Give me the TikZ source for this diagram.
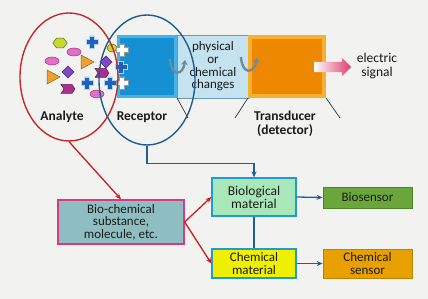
\documentclass[tikz,border=0pt]{standalone}
\usepackage{fontspec}
\setmainfont{Carlito}
\usetikzlibrary{arrows.meta,shapes.geometric,shapes.arrows}
\definecolor{bgc}{HTML}{F2F2F0}
\definecolor{recblue}{HTML}{1590D2}
\definecolor{recedge}{HTML}{45B2E8}
\definecolor{physfill}{HTML}{C4E2EF}
\definecolor{physedge}{HTML}{6A9CB0}
\definecolor{trorange}{HTML}{EE8800}
\definecolor{tredge}{HTML}{F7B030}
\definecolor{ellred}{HTML}{C42A2A}
\definecolor{ellblue}{HTML}{1F5C92}
\definecolor{arrred}{HTML}{C81E1E}
\definecolor{arrblue}{HTML}{1F5E96}
\definecolor{bcfill}{HTML}{8FBEC2}
\definecolor{bcedge}{HTML}{D83A80}
\definecolor{bmfill}{HTML}{A8E8B8}
\definecolor{cyanedge}{HTML}{1E9AD4}
\definecolor{cmfill}{HTML}{EEF000}
\definecolor{bsfill}{HTML}{6AA63A}
\definecolor{bsedge}{HTML}{4A8428}
\definecolor{csfill}{HTML}{E8A000}
\definecolor{csedge}{HTML}{C08000}
\definecolor{txt}{HTML}{1A1A1A}
\definecolor{crossblue}{HTML}{1A64BE}
\definecolor{pinkm}{HTML}{E070C0}
\definecolor{pinkedge}{HTML}{A03080}
\definecolor{ygreen}{HTML}{C8D830}
\definecolor{orng}{HTML}{F0A030}
\definecolor{purp}{HTML}{8048C8}
\definecolor{chev}{HTML}{A83090}
\definecolor{curvc}{HTML}{6E8C9A}
\definecolor{sigred}{HTML}{E03A6A}
\tikzset{
  txtfont/.style={font=\fontsize{13}{12.6}\selectfont, text=txt, align=center},
  boldlab/.style={font=\fontsize{13.5}{14}\selectfont\bfseries, text=txt, align=center},
  bigbox/.style={inner sep=0pt, align=center, txtfont},
  redarr/.style={draw=arrred, line width=1.3pt, -{Stealth[length=6pt,width=5pt]}},
  bluearr/.style={draw=arrblue, line width=1.3pt, -{Stealth[length=6pt,width=5pt]}},
  blueln/.style={draw=arrblue, line width=1.3pt},
  diag/.style={draw=black!80, line width=0.7pt},
  curvy/.style={draw=curvc, line width=2.4pt, -{Stealth[length=5pt,width=7pt]}},
  bcross/.style={fill=crossblue, draw=white!70!crossblue, line width=0.6pt},
  wcross/.style={fill=white, draw=black!40, line width=0.5pt},
  pinkel/.style={ellipse, fill=pinkm, draw=pinkedge, line width=0.5pt, minimum width=14pt, minimum height=8pt, inner sep=0pt},
  tri/.style={fill=orng, draw=orng!60!black, line width=0.5pt},
  dia/.style={fill=purp, draw=purp!60!black, line width=0.5pt},
  chv/.style={fill=chev, draw=chev!60!black, line width=0.5pt},
}
\newcommand{\crossat}[3]{%
  \path[#1] (#2-6,#3-2.5) -- (#2-2.5,#3-2.5) -- (#2-2.5,#3-6) -- (#2+2.5,#3-6) -- (#2+2.5,#3-2.5) -- (#2+6,#3-2.5) -- (#2+6,#3+2.5) -- (#2+2.5,#3+2.5) -- (#2+2.5,#3+6) -- (#2-2.5,#3+6) -- (#2-2.5,#3+2.5) -- (#2-6,#3+2.5) -- cycle;}
\newcommand{\triat}[2]{%
  \path[tri] (#1-6,#2-7) -- (#1+7,#2) -- (#1-6,#2+7) -- cycle;}
\newcommand{\diaat}[2]{%
  \path[dia] (#1,#2-6) -- (#1+6,#2) -- (#1,#2+6) -- (#1-6,#2) -- cycle;}
\newcommand{\chvat}[2]{%
  \path[chv] (#1-7,#2-4.5) -- (#1+4,#2-4.5) -- (#1+7,#2) -- (#1+4,#2+4.5) -- (#1-7,#2+4.5) -- (#1-4,#2) -- cycle;}
\begin{document}
\begin{tikzpicture}[x=1pt,y=-1pt]
\useasboundingbox (0,0) rectangle (428,299);
\fill[bgc] (0,0) rectangle (428,299);

% top row boxes
\node[draw=none, fill=recedge, minimum width=60pt, minimum height=63pt, inner sep=0pt] (receptor) at (147,66.5) {};
\fill[recblue] ([shift={(3,3)}]receptor.north west) rectangle ([shift={(-3,-3)}]receptor.south east);
\node[draw=physedge, fill=physfill, line width=0.8pt, minimum width=72pt, minimum height=63pt, inner sep=0pt, txtfont] (physical) at (213,66.5) {physical\\or\\chemical\\changes};
\node[draw=none, fill=tredge, minimum width=78pt, minimum height=63pt, inner sep=0pt] (transducer) at (287,66.5) {};
\fill[trorange] ([shift={(4,4)}]transducer.north west) rectangle ([shift={(-4,-4)}]transducer.south east);

% curved arrows
\draw[curvy] (170,59) .. controls (171,77) and (183,76) .. (185,60);
\draw[curvy] (241,57) .. controls (242,75) and (254,74) .. (257,58);

% electric signal arrow
\node[single arrow, left color=white, right color=sigred, draw=none, minimum height=37pt, minimum width=18pt, single arrow head extend=2pt, inner sep=2.5pt] (sigarrow) at (330,67) {};
\node[txtfont, font=\fontsize{13.5}{14}\selectfont] (signal) at (377,66) {electric\\signal};

% diagonal lines
\coordinate (d1) at (188,118);
\coordinate (d2) at (235,118);
\coordinate (d3) at (340,118);
\draw[diag] (receptor.south east) -- (d1);
\draw[diag] (transducer.south west) -- (d2);
\draw[diag] (transducer.south east) -- (d3);

% molecules
\node[regular polygon, regular polygon sides=6, fill=ygreen, draw=ygreen!50!black, line width=0.5pt, minimum size=11pt, inner sep=0pt, xscale=1.3] (hex) at (60,43) {};
\crossat{bcross}{92}{42}
\node[pinkel] (p1) at (74,52) {};
\node[pinkel] (p2) at (52,61) {};
\triat{87}{62}
\diaat{106}{62}
\node[ellipse, fill=ygreen, draw=ygreen!50!black, line width=0.5pt, minimum width=10pt, minimum height=8pt, inner sep=0pt] (ygo) at (112,48) {};
\triat{53}{77}
\diaat{68}{72}
\chvat{102}{73}
\crossat{bcross}{87}{83}
\crossat{bcross}{110}{83}
\chvat{68}{89}
\node[pinkel] (p3) at (97,94) {};
\crossat{wcross}{122}{50}
\crossat{bcross}{121}{67}
\crossat{wcross}{122}{83}

% ellipses
\node[ellipse, draw=ellred, line width=1.4pt, minimum width=98pt, minimum height=128pt, inner sep=0pt] (anell) at (69,77) {};
\node[ellipse, draw=ellblue, line width=1.4pt, minimum width=96pt, minimum height=130pt, inner sep=0pt] (recell) at (147,80) {};
\node[boldlab] (analyte) at (62,117) {Analyte};
\node[boldlab] (reclab) at (142,117) {Receptor};
\node[boldlab] (trlab) at (285,124) {Transducer\\(detector)};

% lower boxes
\node[draw=bcedge, fill=bcfill, line width=1.3pt, minimum width=126pt, minimum height=44pt, bigbox] (biochem) at (121,222) {Bio-chemical\\substance,\\molecule, etc.};
\node[draw=cyanedge, fill=bmfill, line width=1.3pt, minimum width=84pt, minimum height=38pt, bigbox, font=\fontsize{13.5}{13}\selectfont] (biomat) at (254,197) {Biological\\material};
\node[draw=cyanedge, fill=cmfill, line width=1.3pt, minimum width=84pt, minimum height=29pt, bigbox] (chemmat) at (254,263.5) {Chemical\\material};
\node[draw=bsedge, fill=bsfill, line width=0.8pt, minimum width=89pt, minimum height=21pt, bigbox] (biosensor) at (367.5,197.5) {Biosensor};
\node[draw=csedge, fill=csfill, line width=0.8pt, minimum width=89pt, minimum height=29pt, bigbox] (chemsensor) at (367.5,263.5) {Chemical\\sensor};

% connectors
\draw[redarr] (anell.south) -- (biochem.north);
\draw[bluearr] (recell.south) -- ++(0,18) -| (biomat.north);
\draw[redarr] (biochem.east) -- (biomat.west);
\draw[redarr] (biochem.east) -- (chemmat.west);
\draw[blueln] (biomat.south) -- (chemmat.north);
\draw[bluearr] (biomat.east) -- (biosensor.west);
\draw[bluearr] (chemmat.east) -- (chemsensor.west);
\end{tikzpicture}
\end{document}
